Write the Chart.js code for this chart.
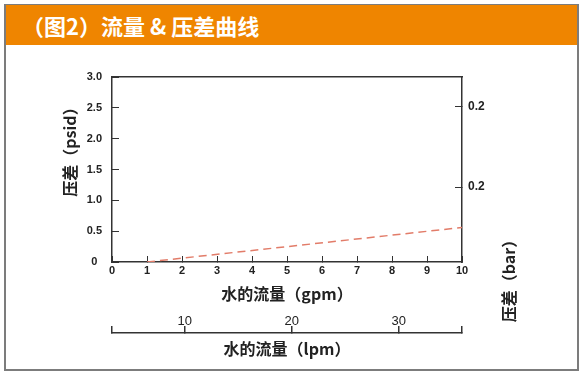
<!DOCTYPE html>
<html lang="zh-CN">
<head>
<meta charset="UTF-8">
<title>流量 & 压差曲线</title>
<script src="https://cdn.jsdelivr.net/npm/chart.js@4"></script>
<style>
  body { margin: 0; background: #fff; }
  .frame { position: absolute; left: 4px; top: 4px; width: 575px; height: 367px; box-sizing: border-box; border: 2px solid #7c7c7c; }
  .header { position: absolute; left: 6px; top: 5px; width: 571px; height: 40px; background: #ef8500;
    color: #fff; font: bold 22px "Noto Sans CJK SC", sans-serif; line-height: 40px; padding-left: 16px; box-sizing: border-box; }
  #chart { position: absolute; left: 7px; top: 47px; }
</style>
</head>
<body>
<div class="frame"></div>
<div class="header">（图2）流量 &amp; 压差曲线</div>
<canvas id="chart" width="570" height="322"></canvas>
<script>
  // 水的流量 (gpm) 与 压差 (psid)
  const gpm = [1, 10];
  const psid = [0, 0.56];

  const gpmTicks = [0, 1, 2, 3, 4, 5, 6, 7, 8, 9, 10];
  const psidTicks = [0, 0.5, 1.0, 1.5, 2.0, 2.5, 3.0];
  const lpmTicks = [10, 20, 30];
  const barTickValues = [0.176, 0.085];
  const barTickLabels = ['0.2', '0.2'];

  const lpmMin = 3.2, lpmMax = 35.9;
  const axisColor = '#333';
  const tickFont = { family: 'Liberation Sans', size: 11, weight: 'bold' };
  const titleFont = { family: 'Noto Sans CJK SC', size: 16, weight: 'bold' };

  const points = gpm.map((x, i) => ({ x: x, y: psid[i] }));

  // 竖排的轴标题
  const sideTitles = {
    id: 'sideTitles',
    afterDraw(chart) {
      const ctx = chart.ctx;
      const draw = (text, x, y) => {
        ctx.save();
        ctx.translate(x, y);
        ctx.rotate(-Math.PI / 2);
        ctx.font = 'bold 16px "Noto Sans CJK SC"';
        ctx.fillStyle = '#222';
        ctx.textAlign = 'center';
        ctx.textBaseline = 'middle';
        ctx.fillText(text, 0, 0);
        ctx.restore();
      };
      draw('压差（psid）', 63, 101);
      draw('压差（bar）', 502, 230);
    }
  };

  new Chart(document.getElementById('chart'), {
    type: 'scatter',
    data: {
      datasets: [{
        data: points,
        showLine: true,
        borderColor: '#e27c69',
        borderWidth: 1.5,
        borderDash: [8, 5],
        pointRadius: 0,
        fill: false
      }]
    },
    options: {
      responsive: false,
      animation: false,
      layout: { padding: { top: 30, left: 0, right: 0, bottom: 0 }, autoPadding: false },
      plugins: { legend: { display: false }, tooltip: { enabled: false } },
      scales: {
        x: {
          type: 'linear', position: 'bottom', min: 0, max: 10,
          afterBuildTicks: s => { s.ticks = gpmTicks.map(v => ({ value: v })); },
          afterFit: s => { s.height = 71; },
          border: { color: axisColor, width: 1.5 },
          grid: { drawOnChartArea: false, tickLength: -6, color: axisColor },
          ticks: { color: '#222', font: tickFont, padding: 8, maxRotation: 0, autoSkip: false },
          title: { display: true, text: '水的流量（gpm）', color: '#222', font: titleFont, padding: { top: 0, bottom: 29 } }
        },
        lpm: {
          type: 'linear', position: 'bottom', min: lpmMin, max: lpmMax,
          afterBuildTicks: s => { s.ticks = [lpmMin, ...lpmTicks, lpmMax].map(v => ({ value: v })); },
          afterFit: s => { s.height = 36; },
          border: { color: axisColor, width: 1.5 },
          grid: { drawOnChartArea: false, tickLength: -7, color: axisColor, lineWidth: 1.5 },
          // mirror: 刻度文字画在轴线上方
          ticks: { color: '#222', font: { family: 'Liberation Sans', size: 13 }, mirror: true, padding: 4,
            maxRotation: 0, autoSkip: false,
            callback: v => lpmTicks.includes(v) ? String(v) : '' },
          title: { display: true, text: '水的流量（lpm）', color: '#222', font: titleFont, padding: { top: 0, bottom: 10 } }
        },
        xTop: {
          type: 'linear', position: 'top', min: 0, max: 10,
          afterFit: s => { s.height = 0; },
          border: { color: axisColor, width: 1.5 },
          grid: { drawOnChartArea: false, drawTicks: false },
          ticks: { display: false }
        },
        y: {
          type: 'linear', position: 'left', min: 0, max: 3,
          afterBuildTicks: s => { s.ticks = psidTicks.map(v => ({ value: v })); },
          afterFit: s => { s.width = 105; },
          border: { color: axisColor, width: 1.5 },
          grid: { drawOnChartArea: false, tickLength: -7, color: axisColor },
          ticks: { color: '#222', font: tickFont, padding: 17, crossAlign: 'center',
            callback: v => v === 0 ? '0' : v.toFixed(1) }
        },
        y2: {
          type: 'linear', position: 'right', min: 0, max: 0.21,
          afterBuildTicks: s => { s.ticks = barTickValues.map(v => ({ value: v })); },
          afterFit: s => { s.width = 115; },
          border: { color: axisColor, width: 1.5 },
          grid: { drawOnChartArea: false, tickLength: -7, color: axisColor },
          ticks: { color: '#222', font: { family: 'Liberation Sans', size: 12, weight: 'bold' }, padding: 13,
            callback: (v, i) => barTickLabels[i] }
        }
      }
    },
    plugins: [sideTitles]
  });
</script>
</body>
</html>
